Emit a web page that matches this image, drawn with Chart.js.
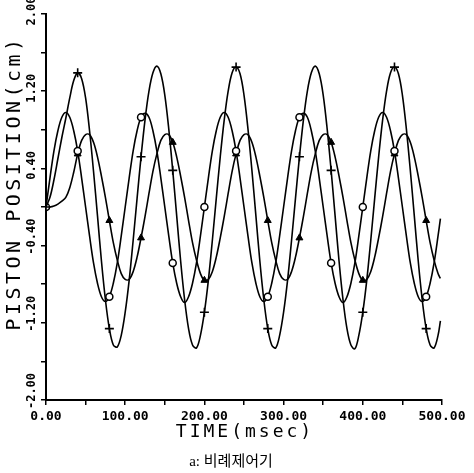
<!DOCTYPE html>
<html>
<head>
<meta charset="utf-8">
<script src="https://cdn.jsdelivr.net/npm/chart.js@4/dist/chart.umd.min.js"></script>
<style>
  html, body { margin: 0; padding: 0; background: #fff; }
  #wrap { width: 474px; height: 473px; }
</style>
</head>
<body>
<div id="wrap"><canvas id="chart" width="474" height="473"></canvas></div>
<script>
// time axis (msec)
const timeMs = [0,5,10,15,20,25,30,35,40,45,50,55,60,65,70,75,80,85,90,95,
  100,105,110,115,120,125,130,135,140,145,150,155,160,165,170,175,180,185,190,195,
  200,205,210,215,220,225,230,235,240,245,250,255,260,265,270,275,280,285,290,295,
  300,305,310,315,320,325,330,335,340,345,350,355,360,365,370,375,380,385,390,395,
  400,405,410,415,420,425,430,435,440,445,450,455,460,465,470,475,480,485,490,495,498];

// piston position (cm)
const largePos = [0,0.10,0.28,0.50,0.72,0.92,1.13,1.31,
  1.39,1.33,1.13,0.79,0.37,-0.09,-0.56,-0.96,-1.26,-1.43,-1.45,-1.33,
  -1.09,-0.76,-0.35,0.09,0.52,0.90,1.20,1.39,
  1.46,1.38,1.16,0.81,0.38,-0.09,-0.56,-0.96,-1.26,-1.43,-1.46,-1.33,
  -1.09,-0.76,-0.35,0.09,0.52,0.90,1.20,1.39,
  1.45,1.38,1.16,0.81,0.38,-0.09,-0.56,-0.96,-1.26,-1.43,-1.46,-1.33,
  -1.09,-0.76,-0.35,0.09,0.52,0.90,1.20,1.39,
  1.46,1.38,1.16,0.81,0.38,-0.09,-0.56,-0.96,-1.26,-1.43,-1.47,-1.33,
  -1.09,-0.76,-0.35,0.09,0.52,0.90,1.20,1.39,
  1.45,1.38,1.16,0.81,0.38,-0.09,-0.56,-0.96,-1.26,-1.43,-1.46,-1.33,
  -1.18];

const mediumPos = [0,0.30,0.58,0.79,0.93,0.98,0.93,0.79,0.58,0.30,0,-0.30,-0.58,-0.79,-0.93,-0.98,-0.93,-0.79,-0.58,-0.30,
  0,0.30,0.58,0.79,0.93,0.97,0.93,0.79,0.58,0.30,0,-0.30,-0.58,-0.79,-0.93,-0.99,-0.93,-0.79,-0.58,-0.30,
  0,0.30,0.58,0.79,0.93,0.98,0.93,0.79,0.58,0.30,0,-0.30,-0.58,-0.79,-0.93,-0.98,-0.93,-0.79,-0.58,-0.30,
  0,0.30,0.58,0.79,0.93,0.97,0.93,0.79,0.58,0.30,0,-0.30,-0.58,-0.79,-0.93,-0.99,-0.93,-0.79,-0.58,-0.30,
  0,0.30,0.58,0.79,0.93,0.98,0.93,0.79,0.58,0.30,0,-0.30,-0.58,-0.79,-0.93,-0.98,-0.93,-0.79,-0.58,-0.30,
  -0.12];

const smallPos = [0,0.00,0.01,0.03,0.06,0.10,0.20,0.36,0.55,0.69,
  0.75,0.75,0.67,0.52,0.32,0.10,-0.14,-0.37,-0.55,-0.69,-0.75,-0.75,-0.67,-0.52,-0.32,-0.10,0.14,0.37,0.55,0.69,
  0.75,0.75,0.67,0.52,0.32,0.10,-0.14,-0.37,-0.55,-0.69,-0.76,-0.75,-0.67,-0.52,-0.32,-0.10,0.14,0.37,0.55,0.69,
  0.75,0.75,0.67,0.52,0.32,0.10,-0.14,-0.37,-0.55,-0.69,-0.75,-0.75,-0.67,-0.52,-0.32,-0.10,0.14,0.37,0.55,0.69,
  0.75,0.75,0.67,0.52,0.32,0.10,-0.14,-0.37,-0.55,-0.69,-0.76,-0.75,-0.67,-0.52,-0.32,-0.10,0.14,0.37,0.55,0.69,
  0.75,0.75,0.67,0.52,0.32,0.10,-0.14,-0.37,-0.55,-0.69,
  -0.74];

// symbols every 40 msec
const markerTimes = [0,40,80,120,160,200,240,280,320,360,400,440,480];

const xTickLabels = [0,100,200,300,400,500];
const yTickLabels = [2.0,1.2,0.4,-0.4,-1.2,-2.0];

const xTitle = 'TIME(msec)';
const yTitle = 'PISTON POSITION(cm)';
const caption = 'a: 비례제어기';

function toPoints(values) {
  return values.map((v, i) => ({ x: timeMs[i], y: v }));
}

function markerRadius(r) {
  return ctx => markerTimes.includes(timeMs[ctx.dataIndex]) ? r : 0;
}

// tick labels and titles drawn by hand (rotated labels, wide letter spacing)
const axisText = {
  id: 'axisText',
  afterDraw(chart) {
    const { ctx, scales: { x, y } } = chart;
    ctx.save();
    ctx.fillStyle = '#000';
    ctx.textAlign = 'center';
    ctx.textBaseline = 'middle';

    ctx.font = 'bold 13px "DejaVu Sans Mono"';
    xTickLabels.forEach(v => {
      ctx.fillText(v.toFixed(2), x.getPixelForValue(v), y.bottom + 17);
    });

    ctx.font = 'bold 12px "DejaVu Sans Mono"';
    yTickLabels.forEach(v => {
      ctx.save();
      ctx.translate(x.left - 14, y.getPixelForValue(v) - (v < 0 ? 9 : 3));
      ctx.rotate(-Math.PI / 2);
      ctx.fillText(v.toFixed(2), 0, 0);
      ctx.restore();
    });

    ctx.font = '18px "DejaVu Sans Mono"';
    ctx.letterSpacing = '3px';
    ctx.fillText(xTitle, (x.left + x.right) / 2 + 1, 432);

    ctx.save();
    ctx.font = '20px "DejaVu Sans Mono"';
    ctx.letterSpacing = '3.5px';
    ctx.translate(15, 183);
    ctx.rotate(-Math.PI / 2);
    ctx.fillText(yTitle, 0, 0);
    ctx.restore();

    ctx.letterSpacing = '0px';
    ctx.font = '15px "Liberation Serif", "Noto Sans CJK KR"';
    ctx.fillText(caption, 231, 462);
    ctx.restore();
  }
};

new Chart(document.getElementById('chart'), {
  type: 'line',
  data: {
    datasets: [
      {
        label: 'large',
        data: toPoints(largePos),
        borderColor: '#000',
        borderWidth: 1.6,
        tension: 0.35,
        pointStyle: 'cross',
        pointRadius: markerRadius(4.5),
        pointBorderColor: '#000',
        pointBorderWidth: 1.6,
      },
      {
        label: 'medium',
        data: toPoints(mediumPos),
        borderColor: '#000',
        borderWidth: 1.6,
        tension: 0.35,
        pointStyle: 'circle',
        pointRadius: markerRadius(3.5),
        pointBackgroundColor: '#fff',
        pointBorderColor: '#000',
        pointBorderWidth: 1.5,
      },
      {
        label: 'small',
        data: toPoints(smallPos),
        borderColor: '#000',
        borderWidth: 1.6,
        tension: 0.35,
        pointStyle: 'triangle',
        pointRadius: markerRadius(4),
        pointBackgroundColor: '#000',
        pointBorderColor: '#000',
        pointBorderWidth: 1,
      },
    ],
  },
  options: {
    responsive: false,
    animation: false,
    devicePixelRatio: 1,
    layout: { padding: { left: 41, right: 32, top: 14, bottom: 68 } },
    plugins: {
      legend: { display: false },
      tooltip: { enabled: false },
    },
    scales: {
      x: {
        type: 'linear',
        min: 0,
        max: 500,
        ticks: { display: false, stepSize: 50 },
        grid: { drawOnChartArea: false, drawTicks: true, tickLength: 5, color: '#000', lineWidth: 1.5 },
        border: { display: true, color: '#000', width: 2 },
      },
      y: {
        min: -2,
        max: 2,
        ticks: { display: false, stepSize: 0.4 },
        grid: { drawOnChartArea: false, drawTicks: true, tickLength: 5, color: '#000', lineWidth: 1.5 },
        border: { display: true, color: '#000', width: 2 },
      },
    },
  },
  plugins: [axisText],
});
</script>
</body>
</html>
